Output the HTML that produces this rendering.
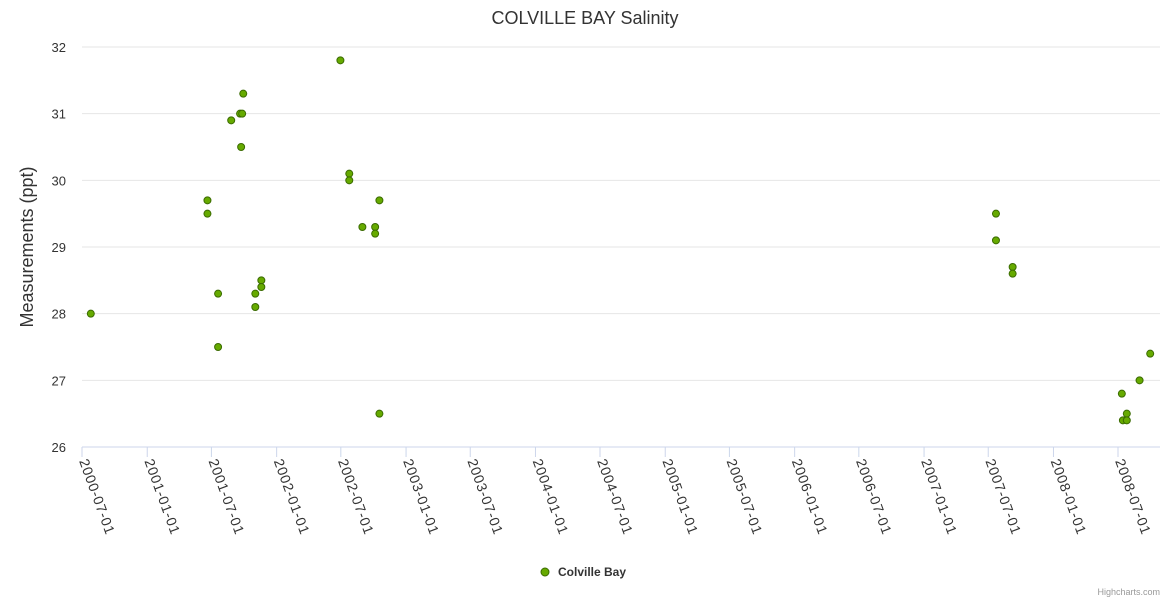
<!DOCTYPE html>
<html><head><meta charset="utf-8">
<style>
body{margin:0;background:#fff;font-family:"Liberation Sans",sans-serif;}
svg text{font-family:"Liberation Sans",sans-serif;}
</style></head>
<body>
<svg id="chart" width="1170" height="600" xmlns="http://www.w3.org/2000/svg">
<text x="585" y="24" text-anchor="middle" font-size="18" fill="#333">COLVILLE BAY Salinity</text>
<text transform="translate(33,247) rotate(-90)" text-anchor="middle" font-size="18" fill="#333">Measurements (ppt)</text>
<g id="grid"></g><g id="xaxis"></g><g id="points"></g>
<g>
<circle cx="545" cy="572" r="4" fill="#66aa00" stroke="#3a6b00" stroke-width="1"/>
<text x="558" y="576" font-size="12" font-weight="bold" fill="#333">Colville Bay</text>
</g>
<text x="1160" y="595" text-anchor="end" font-size="9" fill="#999">Highcharts.com</text>
</svg>
<script>
const dates=["2000-07-23","2001-06-17","2001-06-17","2001-07-17","2001-07-17","2001-08-23","2001-09-17","2001-09-20","2001-09-23","2001-09-26","2001-10-30","2001-10-30","2001-11-16","2001-11-16","2002-06-27","2002-07-22","2002-07-22","2002-08-28","2002-10-03","2002-10-03","2002-10-15","2002-10-15","2007-07-20","2007-07-20","2007-09-05","2007-09-05","2008-07-09","2008-07-12","2008-07-23","2008-07-23","2008-08-28","2008-09-27"];
const values=[28.0,29.7,29.5,28.3,27.5,30.9,31.0,30.5,31.0,31.3,28.3,28.1,28.5,28.4,31.8,30.1,30.0,29.3,29.3,29.2,29.7,26.5,29.5,29.1,28.7,28.6,26.8,26.4,26.5,26.4,27.0,27.4];
const yTicks=[26,27,28,29,30,31,32];
const xTicks=["2000-07-01","2001-01-01","2001-07-01","2002-01-01","2002-07-01","2003-01-01","2003-07-01","2004-01-01","2004-07-01","2005-01-01","2005-07-01","2006-01-01","2006-07-01","2007-01-01","2007-07-01","2008-01-01","2008-07-01"];
const NS="http://www.w3.org/2000/svg";
const t0=Date.parse("2000-07-01"),t1=Date.parse("2008-07-01");
function xs(d){return 82+(Date.parse(d)-t0)/(t1-t0)*(1118-82);}
function ys(v){return 447-(v-26)/6*400;}
const grid=document.getElementById('grid'),xa=document.getElementById('xaxis'),pts=document.getElementById('points');
yTicks.forEach(v=>{
 const l=document.createElementNS(NS,'line');
 
 
 l.setAttribute('x1',82);l.setAttribute('x2',1160);l.setAttribute('y1',ys(v));l.setAttribute('y2',ys(v));
 l.setAttribute('stroke',v===26?'#ccd6eb':'#e6e6e6');l.setAttribute('stroke-width',1);
 grid.appendChild(l);
 const t=document.createElementNS(NS,'text');
 
 
 t.setAttribute('x',66);t.setAttribute('y',ys(v)+5);t.setAttribute('text-anchor','end');
 t.setAttribute('font-size',13);t.setAttribute('fill','#333');t.textContent=v;
 grid.appendChild(t);
});
xTicks.forEach(d=>{
 const x=xs(d);
 const l=document.createElementNS(NS,'line');
 
 
 l.setAttribute('x1',x);l.setAttribute('x2',x);l.setAttribute('y1',447);l.setAttribute('y2',457);
 l.setAttribute('stroke','#ccd6eb');
 xa.appendChild(l);
 const t=document.createElementNS(NS,'text');
 
 
 t.setAttribute('transform','translate('+(x-3)+',461) rotate(70)');
 t.setAttribute('font-size',14);t.setAttribute('letter-spacing','0.8');t.setAttribute('fill','#333');t.textContent=d;
 xa.appendChild(t);
});
dates.forEach((d,i)=>{
 const c=document.createElementNS(NS,'circle');
 
 
 c.setAttribute('cx',xs(d)+1);c.setAttribute('cy',ys(values[i]));c.setAttribute('r',3.5);
 c.setAttribute('fill','#66aa00');c.setAttribute('stroke','#3a6b00');c.setAttribute('stroke-width',1);
 pts.appendChild(c);
});
</script>
</body></html>
